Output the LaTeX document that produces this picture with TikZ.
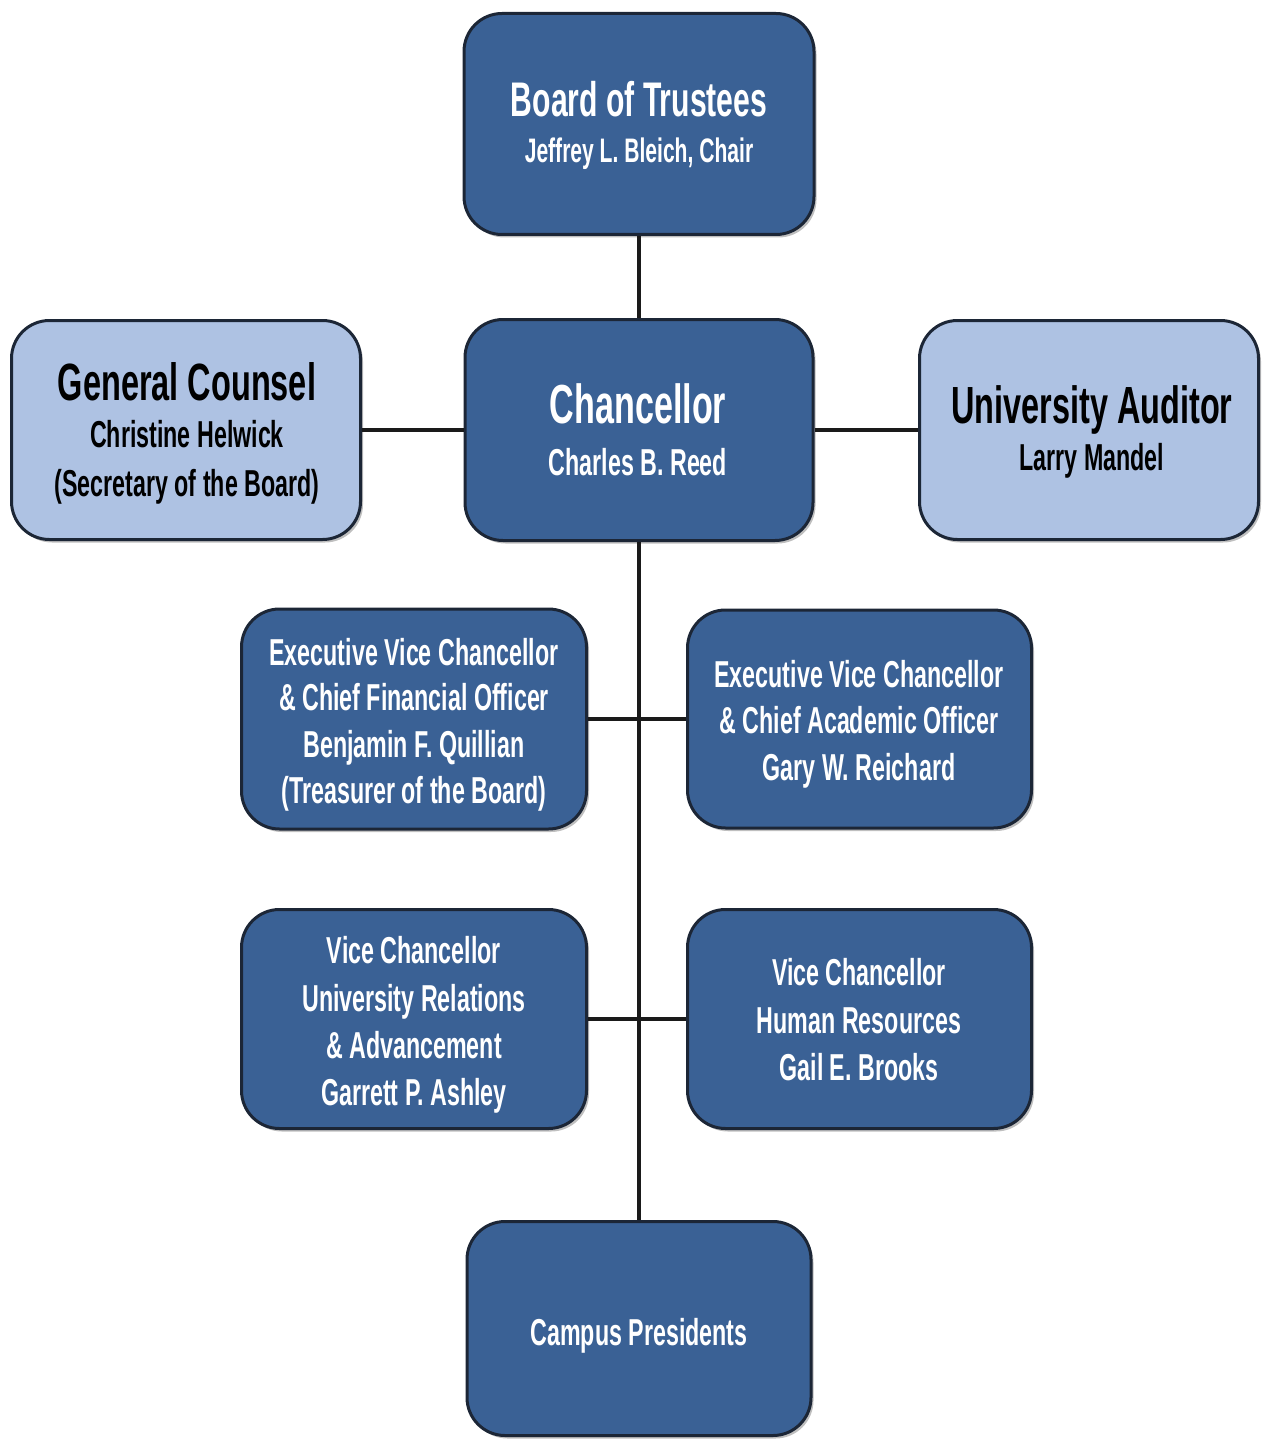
\documentclass[tikz,border=0pt]{standalone}
\usepackage{fontspec}
\newfontfamily\orgfont{Liberation Sans}[FakeStretch=0.62]
\usetikzlibrary{shadows}
\definecolor{boxdark}{HTML}{3A6195}
\definecolor{boxlight}{HTML}{AEC2E3}
\definecolor{boxrim}{HTML}{1C2636}
\definecolor{linkcol}{HTML}{1A1A1A}
\begin{document}
\begin{tikzpicture}[x=1pt,y=-1pt,
  orgbox/.style={draw=boxrim, line width=3pt, rounded corners=38pt,
     minimum width=#1-3pt, inner sep=0pt,
     drop shadow={shadow xshift=2.5pt, shadow yshift=-3pt, fill=black, opacity=0.25}},
  darkbox/.style={orgbox=#1, fill=boxdark},
  lightbox/.style={orgbox=#1, fill=boxlight},
  txt/.style={anchor=base, inner sep=0pt, font=\orgfont\bfseries\fontsize{37.5}{40}\selectfont},
  wtxt/.style={txt, text=white},
  btxt/.style={txt, text=black},
  link/.style={draw=linkcol, line width=3.5pt}
]
\useasboundingbox (0,0) rectangle (1261,1439);

% boxes
\node[darkbox=353, minimum height=221pt] (board) at (639,124) {};
\node[darkbox=351, minimum height=221pt] (chanc) at (639,430) {};
\node[lightbox=352, minimum height=219pt] (gc) at (186,430) {};
\node[lightbox=342, minimum height=219pt] (aud) at (1089,430) {};
\node[darkbox=348, minimum height=220pt] (cfo) at (414,719) {};
\node[darkbox=347, minimum height=218pt] (cao) at (859.5,719) {};
\node[darkbox=348, minimum height=219pt] (ur) at (414,1019) {};
\node[darkbox=347, minimum height=219pt] (hr) at (859.5,1019) {};
\node[darkbox=347, minimum height=214pt] (campus) at (639,1328.5) {};

% connectors
\draw[link] (board.south) -- (chanc.north);
\draw[link] (chanc.south) -- (campus.north);
\draw[link] (gc.east) -- (chanc.west);
\draw[link] (chanc.east) -- (aud.west);
\draw[link] (cfo.east) -- (cao.west);
\draw[link] (ur.east) -- (hr.west);

% texts
\node[wtxt, font=\orgfont\bfseries\fontsize{48.6}{50}\selectfont] (t1) at (639,117) {Board of Trustees};
\node[wtxt, font=\orgfont\bfseries\fontsize{34}{36}\selectfont] (t2) at (639,163) {Jeffrey L. Bleich, Chair};

\node[wtxt, font=\orgfont\bfseries\fontsize{55}{56}\selectfont] (t3) at (638,423) {Chancellor};
\node[wtxt] (t4) at (638,475) {Charles B. Reed};

\node[btxt, font=\orgfont\bfseries\fontsize{52.4}{54}\selectfont] (t5) at (187,400) {General Counsel};
\node[btxt] (t6) at (187,447) {Christine Helwick};
\node[btxt] (t7) at (187,496) {(Secretary of the Board)};

\node[btxt, font=\orgfont\bfseries\fontsize{52.3}{54}\selectfont] (t8) at (1092,423) {University Auditor};
\node[btxt] (t9) at (1092,470) {Larry Mandel};

\node[wtxt] (t10) at (414,665) {Executive Vice Chancellor};
\node[wtxt] (t11) at (414,710) {\& Chief Financial Officer};
\node[wtxt] (t12) at (414,757) {Benjamin F. Quillian};
\node[wtxt] (t13) at (414,803) {(Treasurer of the Board)};

\node[wtxt] (t14) at (859,687) {Executive Vice Chancellor};
\node[wtxt] (t15) at (859,733) {\& Chief Academic Officer};
\node[wtxt] (t16) at (859,780) {Gary W. Reichard};

\node[wtxt] (t17) at (414,963) {Vice Chancellor};
\node[wtxt] (t18) at (414,1011) {University Relations};
\node[wtxt] (t19) at (414,1058) {\& Advancement};
\node[wtxt] (t20) at (414,1105) {Garrett P. Ashley};

\node[wtxt] (t21) at (859,985) {Vice Chancellor};
\node[wtxt] (t22) at (859,1033) {Human Resources};
\node[wtxt] (t23) at (859,1080) {Gail E. Brooks};

\node[wtxt] (t24) at (639,1345) {Campus Presidents};
\end{tikzpicture}
\end{document}
